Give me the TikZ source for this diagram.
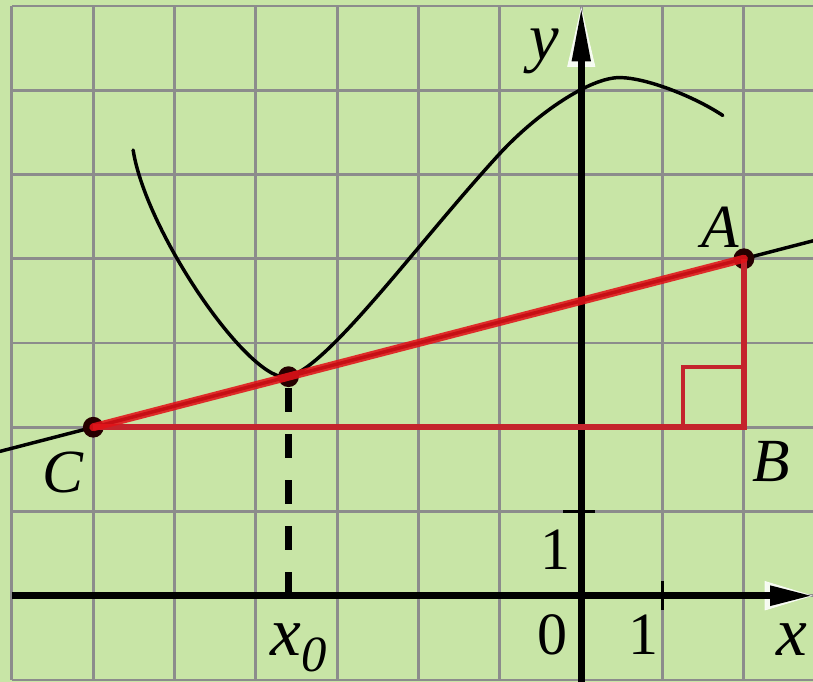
\documentclass[tikz,border=0pt]{standalone}
\usepackage{fontspec}
\setmainfont{Liberation Serif}
\usetikzlibrary{arrows.meta}
\definecolor{bg}{RGB}{200,229,166}
\definecolor{gridgray}{RGB}{140,140,140}
\definecolor{tanred}{RGB}{226,18,24}
\definecolor{legred}{RGB}{196,36,44}
\begin{document}
\begin{tikzpicture}[x=61pt,y=63.1875pt,
  gridline/.style={draw=gridgray,line width=2.2pt},
  axisline/.style={line width=5pt,black},
  curveline/.style={line width=2.6pt,black,line cap=round},
  tanline/.style={line width=6pt,tanred,opacity=0.88,line cap=round},
  legline/.style={line width=4.2pt,legred,line join=miter},
  marker/.style={line width=3pt,legred},
  dotfill/.style={fill=black!85!red},
  dashline/.style={line width=5pt,black,dash pattern=on 18pt off 16.5pt},
  tickline/.style={line width=2pt,black},
  lbl/.style={inner sep=0pt,anchor=base},
  caplbl/.style={lbl,font=\fontsize{46}{46}\selectfont\itshape},
  numlbl/.style={lbl,font=\fontsize{45}{45}\selectfont},
  ylbl/.style={lbl,font=\fontsize{50}{50}\selectfont\itshape},
  xlbl/.style={lbl,font=\fontsize{52}{52}\selectfont\itshape},
]
\useasboundingbox (-7.147,-1.024) rectangle (2.849,7.071);
\fill[bg] (-7.147,-1.024) rectangle (2.849,7.071);
\draw[gridline,xstep=61pt,ystep=63.1875pt] (-7,-1) grid (2.849,7);

% named points
\coordinate (C) at (-6,2);
\coordinate (A) at (2,4);
\coordinate (B) at (2,2);
\coordinate (T) at (-3.6,2.6);
\coordinate (T0) at (-3.6,0);
\coordinate (Lend) at (-7.147,1.7133);
\coordinate (Rend) at (2.849,4.2123);
\coordinate (Xs) at (-7,0);
\coordinate (Xe) at (2.845,0);
\coordinate (Ys) at (0,-1.024);
\coordinate (Ye) at (0,6.99);
\coordinate (Xw) at (2,0);
\coordinate (Yw) at (0,5.5);

% axes with white halo tips
\draw[white,opacity=0.85,line width=0.5pt,-{Triangle[length=36pt,width=22pt]}] (Xw) -- (Xe);
\draw[white,opacity=0.85,line width=0.5pt,-{Triangle[length=45pt,width=21pt]}] (Yw) -- (Ye);
\draw[axisline,-{Triangle[length=32pt,width=14pt]}] (Xs) -- (Xe);
\draw[axisline,-{Triangle[length=41pt,width=13pt]}] (Ys) -- (Ye);
\draw[tickline] (-0.22,1) -- (0.17,1);
\draw[tickline] (1,-0.17) -- (1,0.17);

% tangent line (full) and curve
\draw[curveline] (Lend) -- (Rend);
\draw[curveline] (-5.51,5.29)
  .. controls (-5.35,4.3) and (-4.05,2.49) .. (T)
  .. controls (-3.1,2.725) and (-2.0,4.2) .. (-1.0,5.25)
  .. controls (-0.55,5.72) and (0.1,6.15) .. (0.47,6.15)
  .. controls (0.8,6.15) and (1.4,5.92) .. (1.74,5.70);

% dashed drop to x axis
\draw[dashline] (T0) -- (T);

% points
\fill[dotfill] (C) circle[radius=7.8pt];
\fill[dotfill] (T) circle[radius=7.8pt];
\fill[dotfill] (A) circle[radius=7.8pt];

% red triangle
\draw[legline] (C) -- (B) -- (A);
\draw[tanline] (C) -- (A);
\draw[marker] (B) ++(-0.75,0) -- ++(0,0.715) -- ++(0.75,0);

% labels
\node[ylbl] (ylab) at (-0.459,6.37) {y};
\node[caplbl] (Alab) at (1.71,4.128) {A};
\node[caplbl] (Blab) at (2.33,1.35) {B};
\node[caplbl] (Clab) at (-6.373,1.22) {C};
\node[numlbl] (oney) at (-0.32,0.306) {1};
\node[numlbl] (zero) at (-0.35,-0.70) {0};
\node[numlbl] (onex) at (0.76,-0.70) {1};
\node[xlbl] (xlab) at (2.588,-0.706) {x};
\node[lbl] (xzero) at (-3.477,-0.706) {{\fontsize{52}{52}\selectfont\itshape x}\raisebox{-12pt}{\fontsize{38}{38}\selectfont\itshape 0}};
\end{tikzpicture}
\end{document}
